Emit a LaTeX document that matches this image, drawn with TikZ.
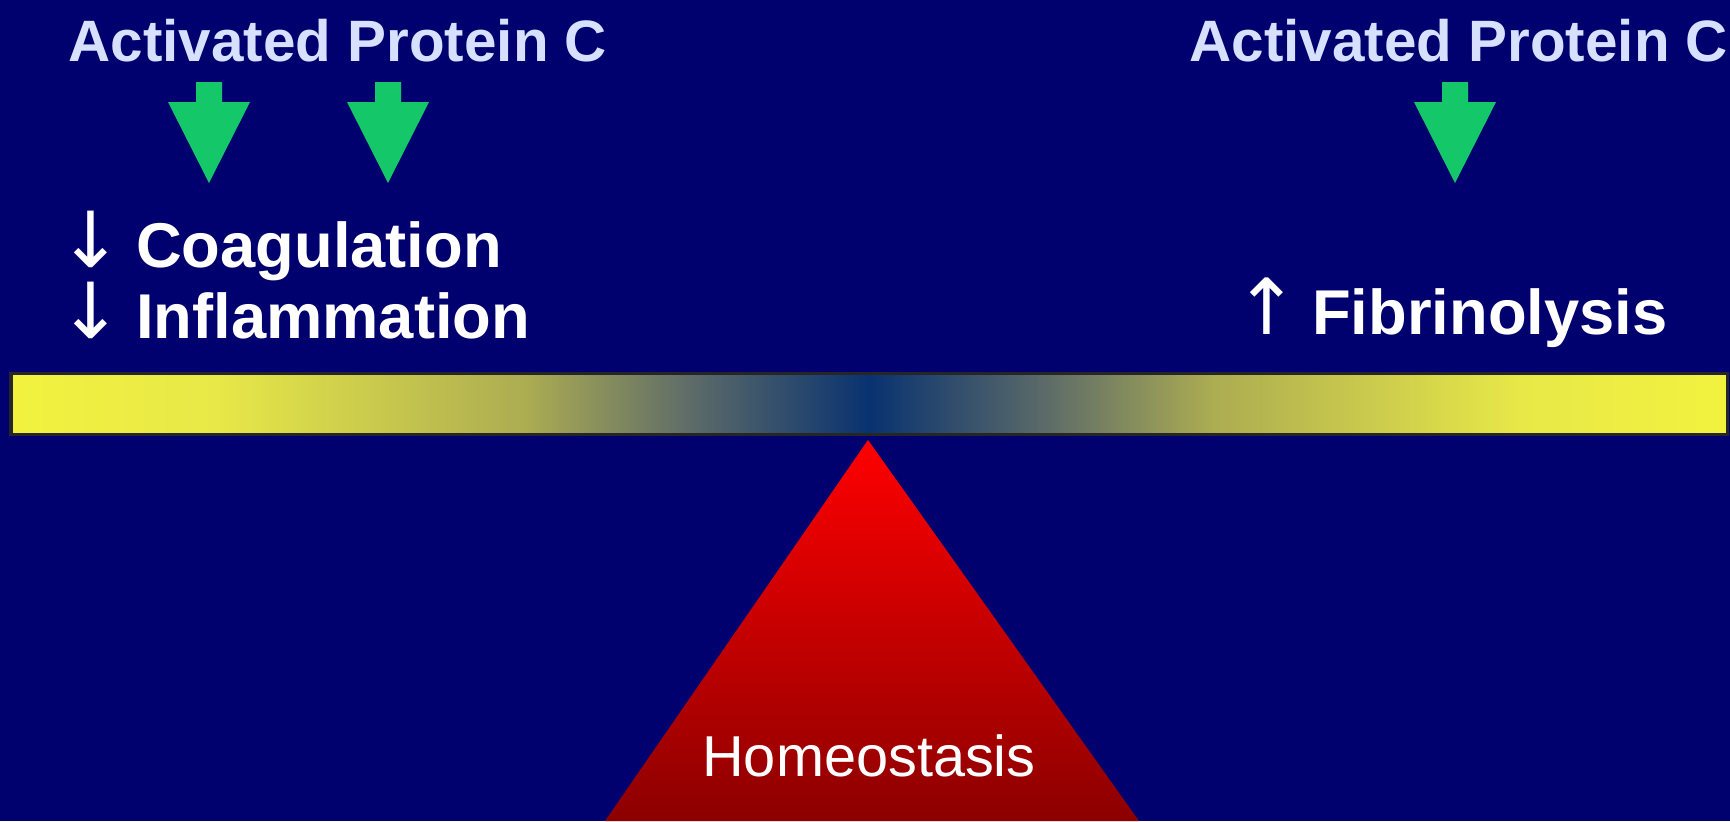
\documentclass[tikz,border=0pt]{standalone}
\usepackage{fontspec}
\setmainfont{Liberation Sans}
\newfontfamily\arrowfont{DejaVu Sans}
\usetikzlibrary{positioning}

\definecolor{slidebg}{RGB}{0,0,110}
\definecolor{apcgreen}{RGB}{20,200,105}
\definecolor{titleblue}{RGB}{215,225,255}
\definecolor{beamyellow}{RGB}{242,242,62}
\definecolor{beamyellowb}{RGB}{232,232,72}
\definecolor{beamolive}{RGB}{172,172,82}
\definecolor{beamgrey}{RGB}{90,105,105}
\definecolor{beammid}{RGB}{8,50,112}
\definecolor{fulcrumtop}{RGB}{255,0,0}
\definecolor{fulcrumbottom}{RGB}{140,0,0}

\pgfdeclarehorizontalshading{beam}{100bp}{color(0bp)=(beamyellow); color(25bp)=(beamyellow);
  color(31bp)=(beamyellowb); color(40bp)=(beamolive); color(45bp)=(beamgrey); color(50bp)=(beammid);
  color(55bp)=(beamgrey); color(60bp)=(beamolive); color(69bp)=(beamyellowb); color(75bp)=(beamyellow);
  color(100bp)=(beamyellow)}

\newcommand\trendarrow[1]{{\arrowfont\mdseries\fontsize{22}{22}\selectfont #1}}

\tikzset{
  apc/.style={inner sep=0pt, text=titleblue, font=\fontsize{16.6}{20}\selectfont\bfseries},
  effect/.style={inner sep=0pt, text=white, font=\fontsize{18}{22}\selectfont\bfseries},
  fulcrumtext/.style={inner sep=0pt, text=white, font=\fontsize{16.4}{20}\selectfont}
}

\begin{document}
\begin{tikzpicture}[x=0.01cm, y=-0.01cm]
  \fill[slidebg] (0,0) rectangle (1730,821);
  \useasboundingbox (0,0) rectangle (1730,821);

  % beam and fulcrum
  \shadedraw[shading=beam, draw=black!85, line width=0.03cm] (11,373) rectangle (1727,434);
  \shade[top color=fulcrumtop, bottom color=fulcrumbottom] (868,440) -- (1139,821) -- (605,821) -- cycle;

  \node[apc, anchor=base west] (apcL) at (68,61) {Activated Protein C};
  \node[apc, anchor=base west] (apcR) at (1189,61) {Activated Protein C};

  \foreach \x in {209,388,1455} {
    \fill[apcgreen] (\x-13,82) -- (\x+13,82) -- (\x+13,102) -- (\x+41,102)
      -- (\x,183) -- (\x-41,102) -- (\x-13,102) -- cycle;
  }

  \node[effect, anchor=base west] (coag) at (58,267) {\trendarrow{↓}\hspace{0.2em}Coagulation};
  \node[effect, anchor=base west] (infl) at (58,338) {\trendarrow{↓}\hspace{0.2em}Inflammation};
  \node[effect, anchor=base west] (fibr) at (1234,334) {\trendarrow{↑}\hspace{0.2em}Fibrinolysis};

  \node[fulcrumtext, anchor=base] (homeo) at (869,776) {Homeostasis};
\end{tikzpicture}
\end{document}
